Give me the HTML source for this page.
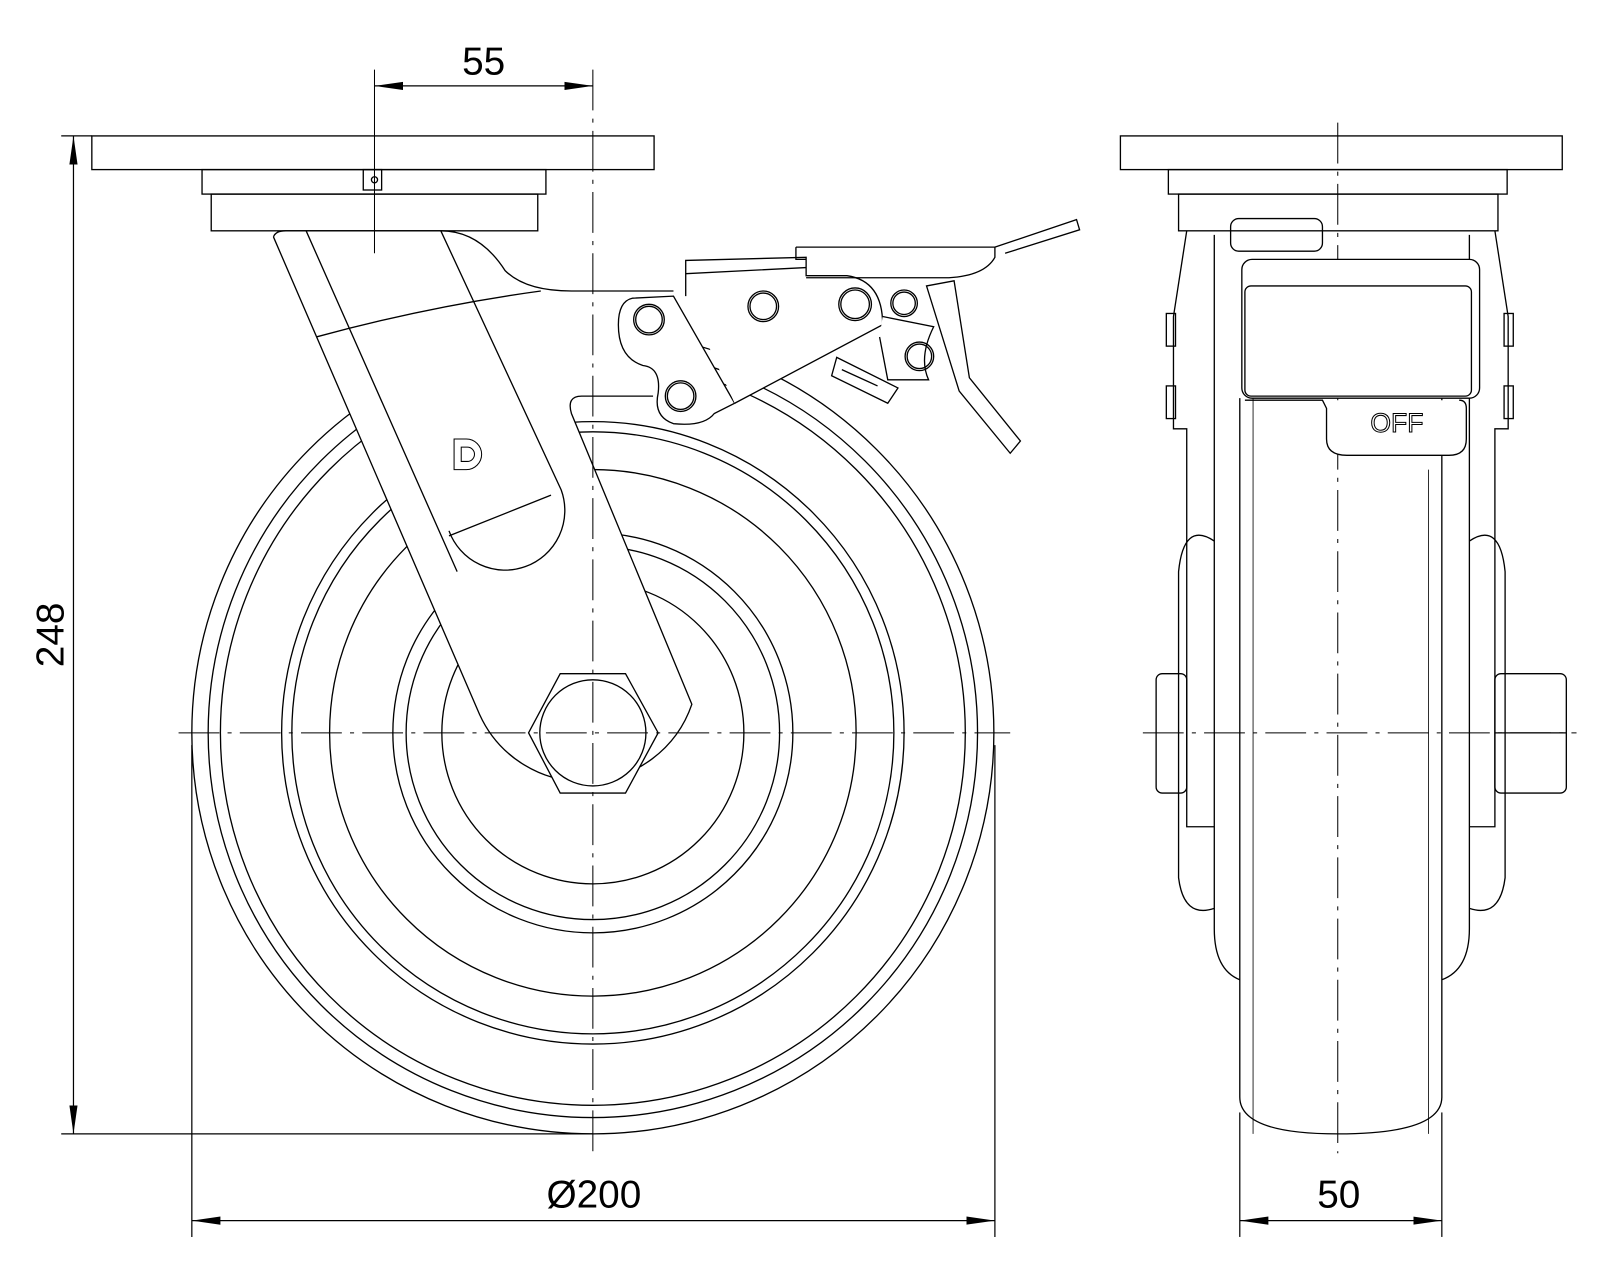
<!DOCTYPE html>
<html><head><meta charset="utf-8"><style>html,body{margin:0;padding:0;background:#fff}svg{display:block}</style></head>
<body>
<svg width="1600" height="1280" viewBox="0 0 1568 1254" xmlns="http://www.w3.org/2000/svg" fill="none" stroke="#000" stroke-width="1.3" font-family="Liberation Sans, sans-serif">
<defs><marker id="a" viewBox="0 0 10 10" refX="10" refY="5" markerWidth="28" markerHeight="10" markerUnits="userSpaceOnUse" orient="auto-start-reverse" preserveAspectRatio="none"><path d="M0,1 L10,5 L0,9z" fill="#000" stroke="none"/></marker></defs>
<!-- LEFT VIEW -->
<rect x="90" y="133" width="551" height="33"/>
<rect x="198" y="166" width="337" height="24"/>
<rect x="207" y="190" width="320" height="36"/>
<rect x="356" y="166" width="18" height="20"/>
<circle cx="367" cy="176" r="3"/>
<!-- wheel -->
<g>
<circle cx="581" cy="718" r="393"/>
<circle cx="581" cy="718" r="377"/>
<circle cx="581" cy="718" r="365"/>
<circle cx="581" cy="718" r="305"/>
<circle cx="581" cy="718" r="295"/>
<circle cx="581" cy="718" r="258"/>
<circle cx="581" cy="718" r="196"/>
<circle cx="581" cy="718" r="183"/>
<circle cx="581" cy="718" r="148"/>
</g>
<!-- fork leg fill -->
<path d="M268,232 L432,226 Q470,226 495,265 L560,285 L660,285 L660,388 L570,388 L560,405 L678,690 A112,112 0 0 1 470,700 Z" fill="#fff" stroke="none"/>
<path d="M268,232 Q270,226 280,226 L432,226 Q470,226 495,265 Q515,285 560,285 L660,285"/>
<path d="M268,232 L470,700 A112,112 0 0 0 678,690 L560,405 Q555,388 570,388 L640,388"/>
<path d="M300,226 L448,560 M432,226 L550,480 A58,58 0 0 1 440,520"/>
<path d="M310,330 Q420,300 530,285 M440,525 L540,485"/>
<path d="M445,430 l12,0 a15,15 0 0 1 0,30 l-12,0z M452,438 l6,0 a7,7 0 0 1 0,14 l-6,0z" stroke-width="1"/>
<polygon points="518,718 549,660 613,660 645,718 613,777 549,777" fill="#fff"/>
<circle cx="581" cy="718" r="52" fill="#fff"/>
<!-- brake -->
<path d="M620,292 L660,290 L720,395 L700,405 Q690,418 660,415 Q640,408 645,385 Q648,360 630,358 Q606,350 606,318 Q606,295 620,292z" fill="#fff"/>
<path d="M672,290 L672,255 L790,252 L790,270 L830,270 Q865,275 865,318 L720,395" fill="#fff"/>
<path d="M672,268 L790,262 M780,242 L975,242 L975,252 Q965,270 930,272 L790,272 M780,242 L780,254 L790,254"/>
<path d="M975,242 L1055,215 L1058,225 L985,248"/>
<path d="M908,280 L935,275 L950,370 L1000,432 L990,444 L940,383 z" fill="#fff"/>
<path d="M865,310 L915,320 Q900,350 910,372 L870,372 L862,330" fill="#fff"/>
<path d="M820,350 L880,380 L870,395 L815,368z M825,362 L860,378" fill="#fff"/>
<circle cx="636" cy="313" r="15"/><circle cx="636" cy="313" r="13"/>
<circle cx="667" cy="388" r="15"/><circle cx="667" cy="388" r="13"/>
<circle cx="748" cy="300" r="15"/><circle cx="748" cy="300" r="13"/>
<circle cx="838" cy="298" r="16"/><circle cx="838" cy="298" r="14"/>
<circle cx="886" cy="297" r="13"/><circle cx="886" cy="297" r="11"/>
<circle cx="901" cy="349" r="14"/><circle cx="901" cy="349" r="12"/>
<!-- centerlines -->
<g stroke-width="1" stroke-dasharray="40,8,4,8">
<line x1="175" y1="718" x2="990" y2="718"/>
<line x1="581" y1="68" x2="581" y2="1130"/>
<line x1="1120" y1="718" x2="1545" y2="718"/>
<line x1="1311" y1="120" x2="1311" y2="1130"/>
</g>
<line x1="367" y1="68" x2="367" y2="248" stroke-width="1"/>
<!-- dims -->
<g stroke-width="1.2">
<line x1="367" y1="84" x2="581" y2="84" marker-start="url(#a)" marker-end="url(#a)"/>
<line x1="72" y1="133" x2="72" y2="1111" marker-start="url(#a)" marker-end="url(#a)"/>
<line x1="60" y1="133" x2="90" y2="133"/>
<line x1="60" y1="1111" x2="581" y2="1111"/>
<line x1="188" y1="1196" x2="975" y2="1196" marker-start="url(#a)" marker-end="url(#a)"/>
<line x1="188" y1="730" x2="188" y2="1212"/>
<line x1="975" y1="730" x2="975" y2="1212"/>
<line x1="1215" y1="1196" x2="1413" y2="1196" marker-start="url(#a)" marker-end="url(#a)"/>
<line x1="1215" y1="1090" x2="1215" y2="1212"/>
<line x1="1413" y1="1090" x2="1413" y2="1212"/>
</g>
<g fill="#000" stroke="none" font-size="38" text-anchor="middle">
<text x="474" y="73">55</text>
<text x="582" y="1183">Ø200</text>
<text x="1312" y="1183">50</text>
<text transform="translate(62,622) rotate(-90)">248</text>
</g>
<!-- RIGHT VIEW -->
<rect x="1098" y="133" width="433" height="33"/>
<rect x="1145" y="166" width="332" height="24"/>
<rect x="1155" y="190" width="313" height="36"/>
<path d="M1190,230 L1190,910 Q1190,950 1215,960 M1440,230 L1440,910 Q1440,950 1413,960"/>
<path d="M1163,226 L1150,310 L1150,420 L1163,420 L1163,810 L1190,810 M1465,226 L1478,310 L1478,420 L1465,420 L1465,810 L1440,810"/>
<rect x="1143" y="307" width="9" height="32"/><rect x="1143" y="378" width="9" height="32"/>
<rect x="1474" y="307" width="9" height="32"/><rect x="1474" y="378" width="9" height="32"/>
<path d="M1190,530 Q1160,510 1155,560 L1155,860 Q1160,900 1190,890 M1440,530 Q1470,510 1475,560 L1475,860 Q1470,900 1440,890"/>
<path d="M1215,390 L1215,1075 Q1215,1111 1311,1111 Q1413,1111 1413,1075 L1413,390"/>
<path d="M1228,390 L1228,1111 M1400,460 L1400,1111" stroke-width="0.8"/>
<rect x="1133" y="660" width="30" height="117" rx="6"/>
<rect x="1465" y="660" width="70" height="117" rx="6"/>
<line x1="1465" y1="718" x2="1535" y2="718"/>
<rect x="1206" y="214" width="90" height="32" rx="8"/>
<rect x="1217" y="254" width="233" height="136" rx="10" fill="#fff"/>
<rect x="1220" y="280" width="222" height="108" rx="6"/>
<path d="M1220,392 L1296,392 L1300,400 L1300,430 Q1300,446 1320,446 L1420,446 Q1437,446 1437,430 L1437,400 Q1437,392 1430,392" fill="#fff"/>
<text x="1369" y="423" font-size="26" text-anchor="middle" fill="none" stroke="#000" stroke-width="1">OFF</text>
</svg>
</body></html>
